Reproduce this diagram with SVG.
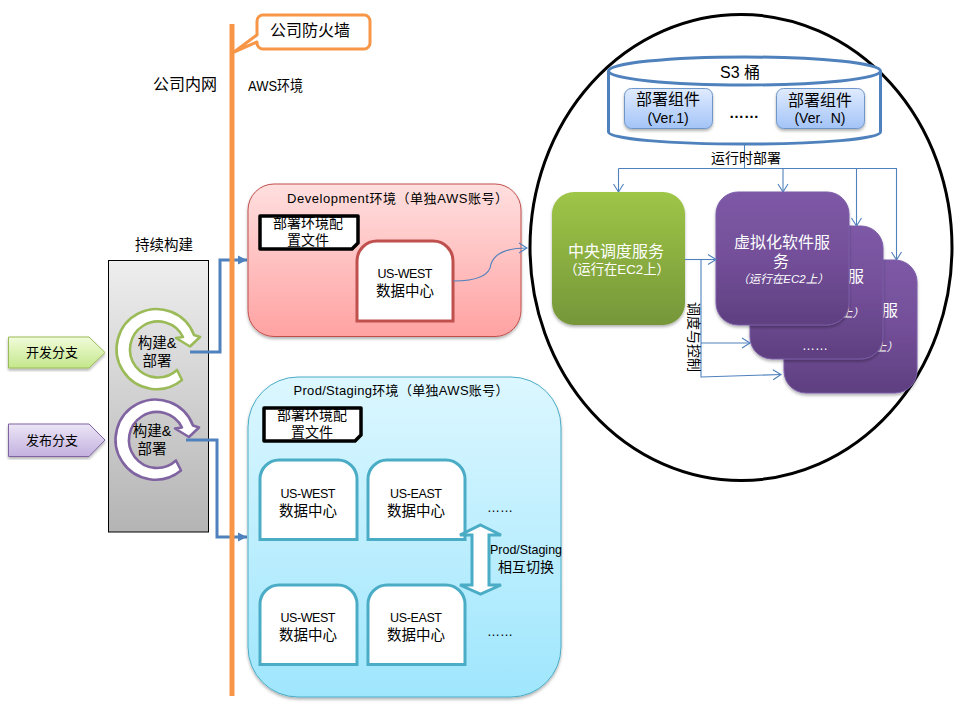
<svg xmlns="http://www.w3.org/2000/svg" width="960" height="720" viewBox="0 0 960 720">
<style>
text{font-family:"Liberation Sans","Noto Sans CJK SC",sans-serif;fill:#000;text-anchor:middle;white-space:pre}
.f16{font-size:16px}.f14{font-size:14.5px}.f13{font-size:13px}.f12{font-size:12.5px}.d14{font-size:14px}
.w{fill:#fff}
.it{font-size:11.5px;font-style:italic;fill:#fff}
.dc{fill:#fff;stroke-width:3}
.dcb{stroke:#4bacc6}.dcr{stroke:#c0504d}
.doc{fill:#fff;stroke:#000;stroke-width:3.5;stroke-linejoin:round}
.card{stroke:#7a5ca8;stroke-width:1;fill:url(#gP);filter:url(#sh)}
.thin{fill:none;stroke:#4f81bd;stroke-width:1.1}
.thick{fill:none;stroke:#4f81bd;stroke-width:3}
.comp{fill:url(#gC);stroke:#6e96c8;stroke-width:1;filter:url(#sh)}
.ring{fill:#fff;stroke-width:2.6;stroke-linejoin:round}
</style>
<defs>
<linearGradient id="gP" x1="0" y1="0" x2="0" y2="1"><stop offset="0" stop-color="#7e59a6"/><stop offset="0.5" stop-color="#734f99"/><stop offset="1" stop-color="#5e3f80"/></linearGradient>
<linearGradient id="gG" x1="0" y1="0" x2="0" y2="1"><stop offset="0" stop-color="#9ec647"/><stop offset="1" stop-color="#769639"/></linearGradient>
<linearGradient id="gC" x1="0" y1="0" x2="0" y2="1"><stop offset="0" stop-color="#e0ebff"/><stop offset="1" stop-color="#a3c4f7"/></linearGradient>
<linearGradient id="gGray" x1="0" y1="0" x2="0" y2="1"><stop offset="0" stop-color="#eeeeee"/><stop offset="1" stop-color="#b4b4b4"/></linearGradient>
<linearGradient id="gR" x1="0" y1="0" x2="0" y2="1"><stop offset="0" stop-color="#ffdfdf"/><stop offset="1" stop-color="#ffa2a2"/></linearGradient>
<linearGradient id="gB" x1="0" y1="0" x2="0" y2="1"><stop offset="0" stop-color="#dcf7ff"/><stop offset="1" stop-color="#9fe6fd"/></linearGradient>
<linearGradient id="gPG" x1="0" y1="0" x2="0" y2="1"><stop offset="0" stop-color="#f1fcda"/><stop offset="1" stop-color="#c4e78b"/></linearGradient>
<linearGradient id="gPP" x1="0" y1="0" x2="0" y2="1"><stop offset="0" stop-color="#ece5f6"/><stop offset="1" stop-color="#c3b1df"/></linearGradient>
<filter id="sh" x="-10%" y="-10%" width="120%" height="120%"><feDropShadow dx="0" dy="2" stdDeviation="1.500" flood-color="#000" flood-opacity="0.3"/></filter>
<marker id="open" markerUnits="userSpaceOnUse" markerWidth="12" markerHeight="14" refX="9" refY="6" orient="auto" viewBox="0 0 12 12"><path d="M1,1 L9,6 L1,11" fill="none" stroke="#4f81bd" stroke-width="1.1"/></marker>
<marker id="solid" markerUnits="userSpaceOnUse" markerWidth="10" markerHeight="10" refX="9" refY="5" orient="auto" viewBox="0 0 10 10"><path d="M0,0.5 L9,5 L0,9.5 Z" fill="#4f81bd"/></marker>
<path id="ringShape" d="M182,380 A40,40 0 1 1 194,335 L200,337 L190,346.5 L176,338 L183,337 A28,28 0 1 0 177,370 Z"/>
</defs>

<g id="scope-circle"><ellipse cx="741" cy="247.500" rx="211" ry="233" fill="#fff" stroke="#000" stroke-width="3"/></g>

<g id="ci-title"><text class="f14" x="164" y="250">持续构建</text></g>
<g id="ci"><rect x="108.500" y="260.500" width="100" height="271.500" fill="url(#gGray)" stroke="#000" stroke-width="1"/></g>

<g id="branch-dev"><path d="M8.500,337 H89 L105,352.500 L89,368 H8.500 Z" fill="url(#gPG)" stroke="#9bbb59" filter="url(#sh)"/><text class="f13" x="52" y="357">开发分支</text></g>
<g id="branch-release"><path d="M8.500,424 H89 L105,440 L89,456.500 H8.500 Z" fill="url(#gPP)" stroke="#8064a2" filter="url(#sh)"/><text class="f13" x="52" y="445">发布分支</text></g>

<g id="build-green"><use href="#ringShape" class="ring" stroke="#9bbb59"/><text class="f14" x="157" y="348">构建&amp;</text><text class="f14" x="157" y="366">部署</text></g>
<g id="build-purple"><use href="#ringShape" class="ring" stroke="#8064a2" transform="translate(-1,90.500)"/><text class="f14" x="152" y="436">构建&amp;</text><text class="f14" x="152" y="454">部署</text></g>

<g id="connectors-build">
<path class="thick" d="M190,352 H220 V260 H247" marker-end="url(#solid)"/>
<path class="thick" d="M186,440 H217 V537 H247" marker-end="url(#solid)"/>
</g>

<g id="firewall"><line x1="232" y1="24" x2="232" y2="696" stroke="#f79646" stroke-width="5"/></g>
<g id="firewall-callout">
<path d="M263,15 H364 A6,6 0 0 1 370,21 V43 A6,6 0 0 1 364,49 H263 A6,6 0 0 1 257,43 V42 L234,52 L257,35 V21 A6,6 0 0 1 263,15 Z" fill="#fff" stroke="#f79646" stroke-width="3" stroke-linejoin="round"/>
<text class="f16" x="310" y="36">公司防火墙</text>
</g>
<g id="label-intranet"><text class="f16" x="185" y="90">公司内网</text></g>
<g id="label-aws"><text x="275.500" y="91" font-size="14.500" textLength="55" lengthAdjust="spacingAndGlyphs">AWS环境</text></g>

<g id="dev-env">
<rect x="248" y="184" width="273" height="152.500" rx="26" fill="url(#gR)" stroke="#c0504d" filter="url(#sh)"/>
<text class="f13" x="397.500" y="203" textLength="221">Development环境（单独AWS账号）</text>
</g>
<g id="dev-doc">
<path class="doc" d="M260,216 H358 V243 L352,249 H260 Z"/>
<text class="d14" x="308" y="228">部署环境配</text><text class="d14" x="308" y="245">置文件</text>
</g>
<g id="dev-dc">
<path class="dc dcr" d="M377,241 H433 A20,20 0 0 1 453,261 V321 H357 V261 A20,20 0 0 1 377,241 Z"/>
<text class="f12" x="405" y="278" textLength="55">US-WEST</text><text class="f14" x="405" y="296">数据中心</text>
</g>

<g id="prod-env">
<rect x="248" y="377" width="313" height="320" rx="50" fill="url(#gB)" stroke="#4bacc6" filter="url(#sh)"/>
<text class="f13" x="401" y="395" textLength="215">Prod/Staging环境（单独AWS账号）</text>
</g>
<g id="prod-doc">
<path class="doc" d="M264,408 H361 V435 L355,441 H264 Z"/>
<text class="d14" x="312" y="420">部署环境配</text><text class="d14" x="312" y="437">置文件</text>
</g>
<g id="dc-w1"><path class="dc dcb" d="M279,460 H338 A19,19 0 0 1 357,479 V539.500 H260 V479 A19,19 0 0 1 279,460 Z"/><text class="f12" x="308" y="498" textLength="55">US-WEST</text><text class="f14" x="308" y="516">数据中心</text></g>
<g id="dc-e1"><path class="dc dcb" d="M387,460 H446 A19,19 0 0 1 465,479 V539.500 H368 V479 A19,19 0 0 1 387,460 Z"/><text class="f12" x="416" y="498" textLength="52">US-EAST</text><text class="f14" x="416" y="516">数据中心</text></g>
<g id="dc-w2"><path class="dc dcb" d="M279,585 H338 A19,19 0 0 1 357,604 V664.500 H260 V604 A19,19 0 0 1 279,585 Z"/><text class="f12" x="308" y="622" textLength="55">US-WEST</text><text class="f14" x="308" y="640">数据中心</text></g>
<g id="dc-e2"><path class="dc dcb" d="M387,585 H446 A19,19 0 0 1 465,604 V664.500 H368 V604 A19,19 0 0 1 387,585 Z"/><text class="f12" x="416" y="622" textLength="52">US-EAST</text><text class="f14" x="416" y="640">数据中心</text></g>
<g id="more-1"><text class="f13" x="500" y="512">……</text></g>
<g id="more-2"><text class="f13" x="500" y="636">……</text></g>
<g id="divider"><line x1="261" y1="559.500" x2="545" y2="559.500" stroke="#4f81bd" stroke-width="3" filter="url(#sh)"/></g>
<g id="switch"><path d="M480.500,525 L501,535 H489 V585 H501 L480.500,594 L460,585 H472 V535 H460 Z" fill="#fff" stroke="#4bacc6" stroke-width="3" stroke-linejoin="miter"/>
<text x="526" y="554" font-size="13" textLength="72" lengthAdjust="spacingAndGlyphs">Prod/Staging</text><text class="d14" x="526" y="572">相互切换</text></g>

<g id="s3">
<path d="M608.500,71 V132 C608.500,139 670,144 744.500,144 C819,144 880.500,139 880.500,132 V71" fill="#fff" stroke="#4f81bd" stroke-width="3"/>
<ellipse cx="744.500" cy="71" rx="136" ry="14" fill="#fff" stroke="#4f81bd" stroke-width="3"/>
<text class="f16" x="740" y="78">S3 桶</text>
</g>
<g id="artifact-1"><rect class="comp" x="624.500" y="88.500" width="88" height="40" rx="7"/><text class="f16" x="668" y="105">部署组件</text><text class="d14" x="668" y="123">(Ver.1)</text></g>
<g id="artifact-n"><rect class="comp" x="776.500" y="88.500" width="88" height="40" rx="7"/><text class="f16" x="820" y="106">部署组件</text><text class="d14" x="820" y="123" textLength="51">(Ver.  N)</text></g>
<g id="artifact-more"><text x="744" y="118" font-size="15" font-weight="bold">……</text></g>

<g id="connectors">
<path class="thin" d="M744.500,144 V168.500"/>
<path class="thin" d="M618.500,168.500 H896.500 V260" marker-end="url(#open)"/>
<path class="thin" d="M618.500,168.500 V192" marker-end="url(#open)"/>
<path class="thin" d="M783,168.500 V192" marker-end="url(#open)"/>
<path class="thin" d="M856.500,168.500 V226" marker-end="url(#open)"/>
<path class="thin" d="M453,281 C478,281 490,275 491,264 C495,252 510,248 527,248" marker-end="url(#open)"/>
</g>
<g id="label-runtime"><text class="d14" x="746" y="163">运行时部署</text></g>

<g id="card-3"><rect class="card" x="784" y="260" width="133" height="133" rx="22"/><text class="f16 w" x="890" y="316">服</text><text class="it" style="text-anchor:end" x="898" y="351">上）</text></g>
<g id="card-2"><rect class="card" x="750" y="226" width="133" height="133" rx="22"/><text class="f16 w" x="856" y="282">服</text><text class="it" style="text-anchor:end" x="864" y="317">上）</text><text class="f13 w" x="815" y="350">……</text></g>
<g id="card-1"><rect class="card" x="716" y="192" width="133" height="133" rx="22"/><text class="f16 w" x="782" y="248">虚拟化软件服</text><text class="f16 w" x="781" y="267">务</text><text class="it" x="783" y="283">（运行在EC2上）</text></g>
<g id="scheduler"><rect x="552" y="192" width="133" height="133" rx="22" fill="url(#gG)" filter="url(#sh)"/><text class="f16 w" x="616" y="257">中央调度服务</text><text class="w" font-size="13.300" x="617" y="274">（运行在EC2上）</text></g>

<g id="connectors-control">
<path class="thin" d="M685,259.500 H716" marker-end="url(#open)"/>
<path class="thin" d="M701,259.500 V377 L781,374.500" marker-end="url(#open)"/>
<path class="thin" d="M701,343 H750" marker-end="url(#open)"/>
</g>
<g id="label-control"><text class="d14" transform="translate(689,337) rotate(90)">调度与控制</text></g>
</svg>
